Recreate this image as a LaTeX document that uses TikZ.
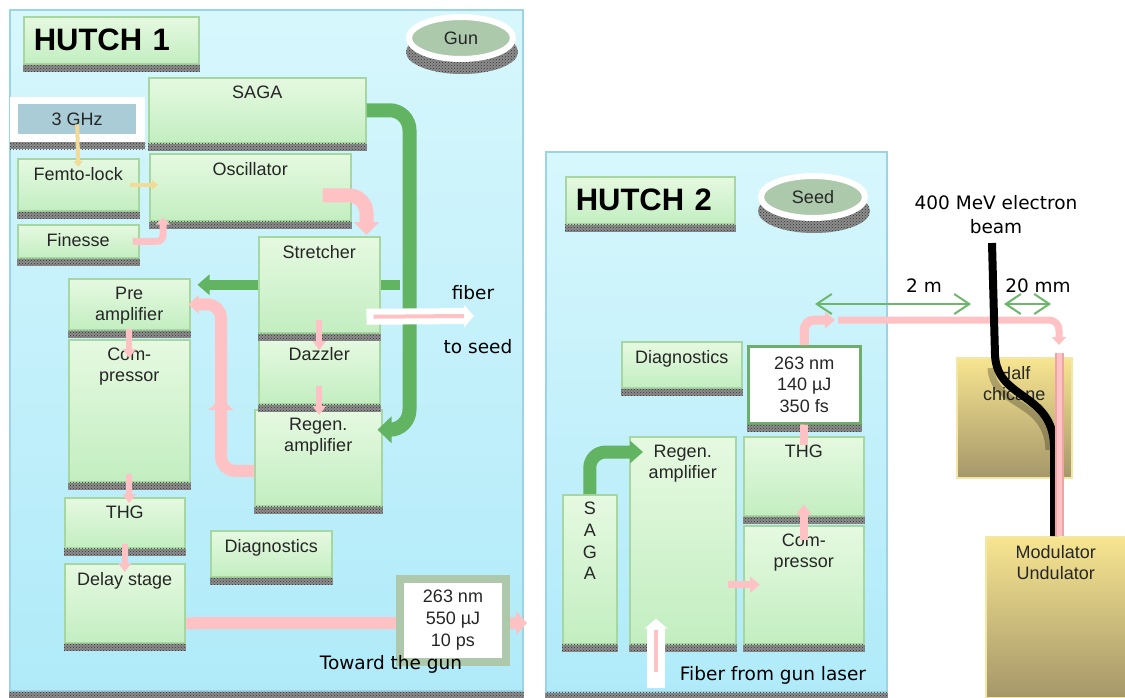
\documentclass[tikz,border=0pt]{standalone}
\usepackage{fontspec}
\setmainfont{Liberation Sans}
\newfontfamily\notefont{DejaVu Sans}
\usepackage{tikz}
\usetikzlibrary{shapes.geometric, arrows.meta, patterns, positioning}

\definecolor{hutchtop}{HTML}{D7F7FC}
\definecolor{hutchbot}{HTML}{B0EAF9}
\definecolor{hutchline}{HTML}{9DD4E3}
\definecolor{unittop}{HTML}{E6F9E1}
\definecolor{unitbot}{HTML}{C3EEC1}
\definecolor{unitline}{HTML}{A6D7A0}
\definecolor{textgray}{HTML}{262626}
\definecolor{pinkfill}{HTML}{FFC2C4}
\definecolor{pinkline}{HTML}{F2A3A6}
\definecolor{pumpgreen}{HTML}{62B462}
\definecolor{sparkfill}{HTML}{F2DB96}
\definecolor{discfill}{HTML}{ACC9AC}
\definecolor{ghzfill}{HTML}{A9CCD7}
\definecolor{framegreen}{HTML}{ADC8AA}
\definecolor{pulseline}{HTML}{6DAE6C}
\definecolor{goldtop}{HTML}{F7E590}
\definecolor{goldbot}{HTML}{A5976A}
\definecolor{goldline}{HTML}{F3E7A6}
\definecolor{dimgreen}{HTML}{6CB76C}

\newcommand{\boxsize}{\fontsize{18}{21}\selectfont}
\newcommand{\notesize}{\notefont\fontsize{18.5}{24}\selectfont}

\pgfdeclarelayer{back}
\pgfdeclarelayer{under}
\pgfsetlayers{back,under,main}

\tikzstyle{hutch} = [draw=hutchline, line width=1.5pt, top color=hutchtop, bottom color=hutchbot, anchor=north west, inner sep=0pt]
\tikzstyle{unit} = [draw=unitline, line width=1.5pt, top color=unittop, bottom color=unitbot, anchor=north west, inner sep=0pt]
\tikzstyle{gold} = [draw=goldline, line width=1.5pt, top color=goldtop, bottom color=goldbot, anchor=north west, inner sep=0pt]
\tikzstyle{title} = [unit, font=\fontsize{31}{36}\selectfont\bfseries, text=black, inner xsep=10pt, align=left, minimum height=47pt]
\tikzstyle{disc} = [ellipse, draw=white, line width=6pt, fill=discfill, minimum width=104pt, minimum height=42pt, inner sep=0pt, font=\boxsize, text=textgray]
\tikzstyle{shadowfill} = [fill=black!45, postaction={pattern=crosshatch dots, pattern color=black!80}]
\tikzstyle{note} = [font=\notesize, text=black, align=center, inner sep=0pt]
\tikzstyle{spark} = [draw=sparkfill, line width=4pt, -{Triangle[width=9pt, length=6pt]}]
\tikzstyle{dimarrow} = [draw=dimgreen, line width=2pt, {Straight Barb[length=15pt, width=20pt]}-{Straight Barb[length=15pt, width=20pt]}]
\tikzstyle{tube} = [draw=pinkline, double=pinkfill, double distance=5pt, line width=2pt]
\tikzstyle{beamline} = [draw=black, line width=8pt]
\tikzset{
  toptext/.style={label={[anchor=north, align=center, inner sep=0pt, yshift=-9pt, font=\boxsize, text=textgray]north:#1}},
  pulse/.style n args={3}{draw=pinkfill, line width=#1, -{Triangle[width=#2, length=#3]}},
  pump/.style n args={3}{draw=pumpgreen, line width=#1, -{Triangle[width=#2, length=#3]}},
  fiberline/.style n args={3}{draw=white, line width=#1, -{Triangle[width=#2, length=#3]}},
}

\begin{document}
\begin{tikzpicture}[x=1pt, y=-1pt]
\useasboundingbox (0,0) rectangle (1125,697);

% hutches
\begin{pgfonlayer}{back}
\node (hutchA) [hutch, minimum width=513pt, minimum height=681pt] at (9,9) {};
\node (hutchB) [hutch, minimum width=341pt, minimum height=540pt] at (545,151) {};
\foreach \nd in {hutchA, hutchB}
  \fill[shadowfill] (\nd.south west) rectangle ([yshift=-7pt]\nd.south east);
\end{pgfonlayer}

\node (titleA) [title, text width=155pt] at (23,16) {HUTCH 1};
\node (titleB) [title, text width=149pt] at (565,176) {HUTCH 2};

\fill[shadowfill] (462,52) ellipse [x radius=56pt, y radius=22pt];
\node (gun) [disc] at (461,38) {Gun};
\fill[shadowfill] (814,211) ellipse [x radius=56pt, y radius=22pt];
\node (seed) [disc] at (813,197) {Seed};

% hutch 1
\node (saga) [unit, minimum width=217pt, minimum height=65pt, toptext=SAGA] at (148,77) {};
\node (ghzback) [fill=white, anchor=north west, minimum width=135pt, minimum height=45pt, inner sep=0pt] at (10,97) {};
\node (ghz) [fill=ghzfill, anchor=north west, minimum width=118pt, minimum height=30pt, inner sep=0pt, font=\boxsize, text=textgray] at (18,104) {3 GHz};
\node (femto) [unit, minimum width=121pt, minimum height=52pt, toptext=Femto-lock] at (17,158) {};
\node (osc) [unit, minimum width=201pt, minimum height=67pt, toptext=Oscillator] at (149,153) {};
\node (finesse) [unit, minimum width=121pt, minimum height=33pt, toptext=Finesse] at (17,224) {};
\node (stretch) [unit, minimum width=121pt, minimum height=96pt, toptext=Stretcher] at (258,236) {};
\node (pre) [unit, minimum width=121pt, minimum height=51pt, toptext={Pre\\amplifier}] at (68,278) {};
\node (compA) [unit, minimum width=121pt, minimum height=142pt, toptext={Com-\\pressor}] at (68,339) {};
\node (dazz) [unit, minimum width=121pt, minimum height=65pt, toptext=Dazzler] at (258,338) {};
\node (regenA) [unit, minimum width=127pt, minimum height=96pt, toptext={Regen.\\amplifier}] at (254,409) {};
\node (thgA) [unit, minimum width=120pt, minimum height=50pt, toptext=THG] at (64,497) {};
\node (diagA) [unit, minimum width=121pt, minimum height=46pt, toptext=Diagnostics] at (210,530) {};
\node (delay) [unit, minimum width=120pt, minimum height=79pt, toptext={Delay stage}] at (64,563) {};
\node (outA) [draw=framegreen, line width=8pt, fill=white, minimum width=106pt, minimum height=83pt, inner sep=0pt, align=center, font=\fontsize{18}{22}\selectfont, text=textgray] at (453,620) {263 nm\\550 µJ\\10 ps};
\foreach \nd in {titleA, titleB, saga, ghzback, femto, osc, finesse, stretch, pre, compA, dazz, regenA, thgA, diagA, delay}
  \fill[shadowfill] (\nd.south west) rectangle ([yshift=-7pt]\nd.south east);

\begin{pgfonlayer}{under}
\draw[pump={10pt}{20pt}{12pt}] ([xshift=19pt]stretch.east) -- ([xshift=7pt]pre.east |- stretch.east);
\coordinate (togun) at (527,623);
\draw[pulse={12pt}{23pt}{11pt}] ([xshift=-6pt,yshift=-20pt]delay.east) -- (togun);
\end{pgfonlayer}

\draw[pump={14pt}{26pt}{14pt}, rounded corners=20pt] (saga.east) -- ++(43,0) |- ([xshift=-5pt,yshift=28pt]regenA.east);
\draw[spark] ([yshift=10pt]ghz.south) -- ([yshift=-9pt]femto.north);
\draw[spark] ([xshift=-10pt]femto.east) -- ([xshift=9pt]osc.west |- femto.east);
\draw[pulse={7pt}{14pt}{7pt}, rounded corners=6pt] ([xshift=-7pt]finesse.east) -| ([xshift=14pt,yshift=4pt]osc.south west);
\draw[pulse={14pt}{25pt}{13pt}, rounded corners=18pt] ([xshift=-29pt,yshift=-8pt]osc.east) -| ([xshift=-14pt,yshift=1pt]stretch.north east);
\draw[pulse={6pt}{13pt}{9pt}] ([yshift=14pt]stretch.south) -- ([yshift=-12pt]dazz.north);
\draw[pulse={6pt}{13pt}{9pt}] ([yshift=19pt]dazz.south) -- ([yshift=-6pt]dazz.south |- regenA.north);
\draw[pulse={6pt}{13pt}{9pt}] ([yshift=2pt]pre.south) -- ([yshift=-19pt]compA.north);
\draw[pulse={6pt}{13pt}{9pt}] ([yshift=9pt]compA.south) -- ([yshift=-6pt]compA.south |- thgA.north);
\draw[pulse={6pt}{13pt}{9pt}] ([yshift=5pt]thgA.south) -- ([yshift=-9pt]delay.north);
\coordinate (loopup) at (221,398);
\draw[pulse={12pt}{24pt}{12pt}, rounded corners=14pt] ([yshift=-13pt]regenA.west) -| (loopup);
\draw[pulse={12pt}{18pt}{10pt}, rounded corners=14pt] ([yshift=-8pt]loopup) |- ([xshift=-2pt]pre.east);
\coordinate (seedout) at (474,316);
\draw[fiberline={16pt}{22pt}{10pt}] ([xshift=-14pt,yshift=-32pt]stretch.east) -- (seedout);
\draw[pinkfill, line width=4pt] ([xshift=-7pt,yshift=-32pt]stretch.east) -- ([xshift=-10pt]seedout);

\node[note] (fiberlbl) at (473,293) {fiber};
\node[note] (seedlbl) at (478,347) {to seed};
\node[note] (gunlbl) at (391,664) {Toward the gun};

% hutch 2
\node (diagB) [unit, minimum width=120pt, minimum height=46pt, toptext=Diagnostics] at (621,341) {};
\node (pulseB) [draw=pulseline, line width=2.5pt, fill=white, anchor=north west, minimum width=112pt, minimum height=77pt, inner sep=0pt, align=center, font=\fontsize{18}{21.5}\selectfont, text=textgray] at (747,345) {263 nm\\140 µJ\\350 fs};
\node (sagaB) [unit, minimum width=54pt, minimum height=149pt, label={[anchor=north, align=center, inner sep=0pt, yshift=-8pt, font=\fontsize{18}{21.7}\selectfont, text=textgray]north:S\\A\\G\\A}] at (562,494) {};
\node (regenB) [unit, minimum width=106pt, minimum height=207pt, toptext={Regen.\\amplifier}] at (629,436) {};
\node (thgB) [unit, minimum width=120pt, minimum height=79pt, toptext=THG] at (743,436) {};
\node (compB) [unit, minimum width=120pt, minimum height=118pt, toptext={Com-\\pressor}] at (743,525) {};
\foreach \nd in {diagB, pulseB, sagaB, regenB, thgB, compB}
  \fill[shadowfill] (\nd.south west) rectangle ([yshift=-7pt]\nd.south east);

\draw[pump={13pt}{22pt}{13pt}, rounded corners=16pt] (sagaB.north) |- ([xshift=14pt,yshift=-16pt]regenB.north west);
\draw[pulse={7pt}{16pt}{10pt}] ([xshift=-9pt]regenB.east |- compB.west) -- ([xshift=17pt]compB.west);
\draw[pulse={8pt}{15pt}{10pt}] ([yshift=-15pt]compB.north) -- ([yshift=12pt]thgB.south);
\draw[pinkfill, line width=8pt] ([yshift=-9pt]thgB.north) -- (pulseB.south);
\coordinate (bend) at (835,320);
\draw[pulse={9pt}{16pt}{10pt}, rounded corners=10pt] (pulseB.north) |- (bend);
\coordinate (modfeed) at (1059,345);
\draw[pulse={7pt}{14pt}{8pt}, rounded corners=10pt] ([xshift=3pt]bend) -| (modfeed);
\coordinate (gunfiber) at (656,688);
\draw[fiberline={18pt}{22pt}{10pt}] (gunfiber) -- ([xshift=27pt,yshift=26pt]regenB.south west);
\draw[pinkfill, line width=4pt] ([yshift=16pt]gunfiber) -- ([xshift=27pt,yshift=15pt]regenB.south west);
\node[note] (laserlbl) at (773,675) {Fiber from gun laser};

% undulator line
\coordinate (dimA) at (815,304);
\coordinate (dimB) at (971,304);
\coordinate (dimC) at (1004,304);
\coordinate (dimD) at (1051,304);
\draw[dimarrow] (dimA) -- (dimB);
\draw[dimarrow] (dimC) -- (dimD);
\node[note] (twom) at (924,286) {2 m};
\node[note] (twentymm) at (1038,286) {20 mm};

\node (chicane) [gold, minimum width=115pt, minimum height=120pt, toptext={Half\\chicane}] at (956,357) {};
\node (modul) [gold, minimum width=140pt, minimum height=161pt, toptext={Modulator\\Undulator}] at (985,536) {};
\node[note] (beamlbl) at (996,215) {400 MeV electron\\beam};
\coordinate (beamtop) at (992,243);
\draw[black, opacity=0.25, line width=7pt] (991,368) .. controls (993,408) and (1047,398) .. (1049,450);
\draw[beamline] (beamtop) -- (995,355) .. controls (997,400) and (1052,392) .. (1054,445) -- ([xshift=-5pt]modfeed |- modul.north);
\draw[tube] ([yshift=-8pt]modfeed) -- (modfeed |- modul.north);
\end{tikzpicture}
\end{document}
